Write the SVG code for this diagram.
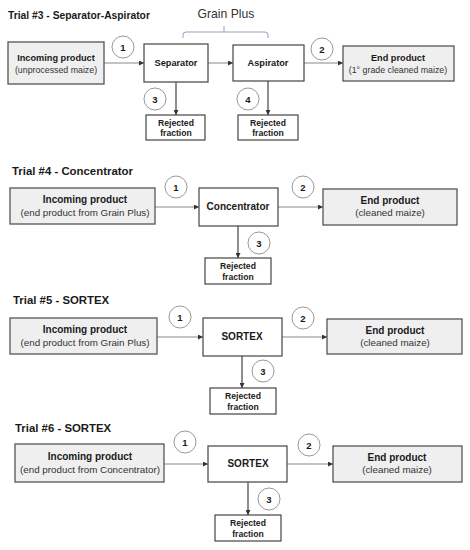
<svg xmlns="http://www.w3.org/2000/svg" width="470" height="550" viewBox="0 0 470 550">
<defs>
<marker id="ah" viewBox="0 0 6 6" refX="6" refY="3" markerWidth="5" markerHeight="5" orient="auto" markerUnits="userSpaceOnUse">
<path d="M0,0 L6,3 L0,6 z" fill="#333"/>
</marker>
<style>
text{font-family:"Liberation Sans",Arial,sans-serif;fill:#1a1a1a}
.title{font-size:11.4px;font-weight:bold}
.b{font-size:10px;font-weight:bold;text-anchor:middle}
.r{font-size:9.8px;text-anchor:middle;fill:#333}
.b3{font-size:9.2px;font-weight:bold;text-anchor:middle}
.r3{font-size:8.8px;text-anchor:middle;fill:#333}
.rj{font-size:8.6px;font-weight:bold;text-anchor:middle}
.n{font-size:9.5px;font-weight:bold;text-anchor:middle}
.grey{fill:#efefef;stroke:#555;stroke-width:1.3}
.wh{fill:#fff;stroke:#444;stroke-width:1.2}
.c{fill:#fff;stroke:#999;stroke-width:1}
.h{stroke:#888;stroke-width:1;fill:none;marker-end:url(#ah)}
.v{stroke:#444;stroke-width:1.2;fill:none;marker-end:url(#ah)}
</style>
</defs>

<!-- Trial 3 -->
<text class="title" x="8" y="19" style="font-size:10.3px">Trial #3 - Separator-Aspirator</text>
<text x="226" y="18" style="font-size:12.2px;text-anchor:middle;fill:#333">Grain Plus</text>
<path d="M183,38 V35 Q183,32 186,32 H265 Q268,32 268,35 V38 M224,32 V26" fill="none" stroke="#8fa3bf" stroke-width="1"/>

<g id="connectors">
<line class="h" x1="104" y1="63" x2="144" y2="63"/>
<line class="h" x1="208" y1="63" x2="233" y2="63"/>
<line class="h" x1="304" y1="63" x2="343" y2="63"/>
<line class="v" x1="176" y1="82" x2="176" y2="115"/>
<line class="v" x1="268" y1="81" x2="268" y2="115"/>

<line class="h" x1="155" y1="207" x2="199" y2="207"/>
<line class="h" x1="278" y1="207" x2="323" y2="207"/>
<line class="v" x1="238" y1="226" x2="238" y2="258"/>

<line class="h" x1="157" y1="337" x2="203" y2="337"/>
<line class="h" x1="282" y1="337" x2="327" y2="337"/>
<line class="v" x1="242" y1="356" x2="242" y2="388"/>

<line class="h" x1="164" y1="464" x2="208" y2="464"/>
<line class="h" x1="287" y1="464" x2="333" y2="464"/>
<line class="v" x1="248" y1="482" x2="248" y2="515"/>
</g>

<g id="t3-in"><rect class="grey" x="8" y="42" width="96" height="42"/>
<text class="b3" x="56" y="61">Incoming product</text><text class="r3" x="56" y="73">(unprocessed maize)</text></g>
<g id="t3-sep"><rect class="wh" x="144" y="44" width="64" height="38"/><text class="b3" x="176" y="66">Separator</text></g>
<g id="t3-asp"><rect class="wh" x="233" y="45" width="71" height="36"/><text class="b3" x="268" y="66">Aspirator</text></g>
<g id="t3-end"><rect class="grey" x="343" y="46" width="111" height="35"/>
<text class="b3" x="398" y="61">End product</text><text class="r3" x="398" y="73">(1° grade cleaned maize)</text></g>
<g id="t3-rej1"><rect class="wh" x="146" y="115" width="59" height="25"/><text class="rj" x="176" y="126">Rejected</text><text class="rj" x="176" y="136">fraction</text></g>
<g id="t3-rej2"><rect class="wh" x="238" y="115" width="60" height="25"/><text class="rj" x="268" y="126">Rejected</text><text class="rj" x="268" y="136">fraction</text></g>
<g id="t3-c1"><circle class="c" cx="123" cy="47" r="11"/><text class="n" x="123" y="50.5">1</text></g>
<g id="t3-c2"><circle class="c" cx="322" cy="49" r="11"/><text class="n" x="322" y="52.5">2</text></g>
<g id="t3-c3"><circle class="c" cx="155" cy="99" r="11"/><text class="n" x="155" y="102.5">3</text></g>
<g id="t3-c4"><circle class="c" cx="248" cy="99" r="11"/><text class="n" x="248" y="102.5">4</text></g>

<!-- Trial 4 -->
<text class="title" x="12" y="175">Trial #4 - Concentrator</text>
<g id="t4-in"><rect class="grey" x="10" y="188" width="145" height="36"/>
<text class="b" x="85" y="203">Incoming product</text><text class="r" x="85" y="216">(end product from Grain Plus)</text></g>
<g id="t4-con"><rect class="wh" x="199" y="188" width="79" height="38"/><text class="b" x="238" y="210">Concentrator</text></g>
<g id="t4-end"><rect class="grey" x="323" y="189" width="134" height="36"/>
<text class="b" x="390" y="204">End product</text><text class="r" x="390" y="216">(cleaned maize)</text></g>
<g id="t4-rej"><rect class="wh" x="205" y="258" width="66" height="26"/><text class="rj" x="238" y="269">Rejected</text><text class="rj" x="238" y="280">fraction</text></g>
<g id="t4-c1"><circle class="c" cx="176" cy="187" r="11"/><text class="n" x="176" y="190.5">1</text></g>
<g id="t4-c2"><circle class="c" cx="303" cy="187" r="11"/><text class="n" x="303" y="190.5">2</text></g>
<g id="t4-c3"><circle class="c" cx="259" cy="243" r="11"/><text class="n" x="259" y="246.5">3</text></g>

<!-- Trial 5 -->
<text class="title" x="13" y="304">Trial #5 - SORTEX</text>
<g id="t5-in"><rect class="grey" x="10" y="318" width="147" height="36"/>
<text class="b" x="85" y="333">Incoming product</text><text class="r" x="85" y="346">(end product from Grain Plus)</text></g>
<g id="t5-sor"><rect class="wh" x="203" y="318" width="79" height="38"/><text class="b" x="242" y="340">SORTEX</text></g>
<g id="t5-end"><rect class="grey" x="327" y="319" width="135" height="35"/>
<text class="b" x="395" y="334">End product</text><text class="r" x="395" y="346">(cleaned maize)</text></g>
<g id="t5-rej"><rect class="wh" x="210" y="388" width="66" height="26"/><text class="rj" x="243" y="399">Rejected</text><text class="rj" x="243" y="410">fraction</text></g>
<g id="t5-c1"><circle class="c" cx="180" cy="317" r="11"/><text class="n" x="180" y="320.5">1</text></g>
<g id="t5-c2"><circle class="c" cx="303" cy="318" r="11"/><text class="n" x="303" y="321.5">2</text></g>
<g id="t5-c3"><circle class="c" cx="263" cy="371" r="11"/><text class="n" x="263" y="374.5">3</text></g>

<!-- Trial 6 -->
<text class="title" x="15" y="432">Trial #6 - SORTEX</text>
<g id="t6-in"><rect class="grey" x="15" y="444" width="149" height="38"/>
<text class="b" x="90" y="460">Incoming product</text><text class="r" x="90" y="473">(end product from Concentrator)</text></g>
<g id="t6-sor"><rect class="wh" x="208" y="446" width="79" height="36"/><text class="b" x="248" y="467">SORTEX</text></g>
<g id="t6-end"><rect class="grey" x="333" y="446" width="129" height="36"/>
<text class="b" x="397" y="461">End product</text><text class="r" x="397" y="473">(cleaned maize)</text></g>
<g id="t6-rej"><rect class="wh" x="215" y="515" width="66" height="26"/><text class="rj" x="248" y="526">Rejected</text><text class="rj" x="248" y="537">fraction</text></g>
<g id="t6-c1"><circle class="c" cx="185" cy="442" r="11"/><text class="n" x="185" y="445.5">1</text></g>
<g id="t6-c2"><circle class="c" cx="309" cy="445" r="11"/><text class="n" x="309" y="448.5">2</text></g>
<g id="t6-c3"><circle class="c" cx="269" cy="499" r="11"/><text class="n" x="269" y="502.5">3</text></g>
</svg>
